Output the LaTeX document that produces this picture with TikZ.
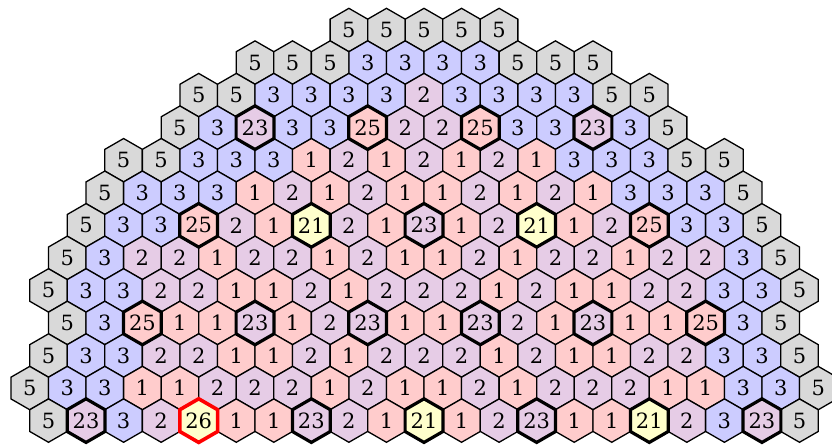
\documentclass[tikz,border=0pt]{standalone}
\usepackage{fontspec}
\setmainfont{DejaVu Serif}
\usetikzlibrary{shapes.geometric}
\definecolor{gray5}{HTML}{D9D9D9}
\definecolor{blue3}{HTML}{CCCCFF}
\definecolor{pink1}{HTML}{FFCCCC}
\definecolor{lav2}{HTML}{E6CCE6}
\definecolor{yel}{HTML}{FFFFCC}
\def\hexdata{%
0/-4/{5,5,5,5,5},
1/-9/{5,5,5,3,3,3,3,5,5,5},
2/-12/{5,5,3,3,3,3,2,3,3,3,3,5,5},
3/-13/{5,3,23,3,3,25,2,2,25,3,3,23,3,5},
4/-16/{5,5,3,3,3,1,2,1,2,1,2,1,3,3,3,5,5},
5/-17/{5,3,3,3,1,2,1,2,1,1,2,1,2,1,3,3,3,5},
6/-18/{5,3,3,25,2,1,21,2,1,23,1,2,21,1,2,25,3,3,5},
7/-19/{5,3,2,2,1,2,2,1,2,1,1,2,1,2,2,1,2,2,3,5},
8/-20/{5,3,3,2,2,1,1,2,1,2,2,2,1,2,1,1,2,2,3,3,5},
9/-19/{5,3,25,1,1,23,1,2,23,1,1,23,2,1,23,1,1,25,3,5},
10/-20/{5,3,3,2,2,1,1,2,1,2,2,2,1,2,1,1,2,2,3,3,5},
11/-21/{5,3,3,1,1,2,2,2,1,2,1,1,2,1,2,2,2,1,1,3,3,5},
12/-20/{5,23,3,2,26,1,1,23,2,1,21,1,2,23,1,1,21,2,3,23,5}}
\begin{document}
\begin{tikzpicture}[x=1pt,y=1pt,
  hexcell/.style={regular polygon, regular polygon sides=6, shape border rotate=30,
    minimum size=43.36pt, inner sep=0pt, outer sep=0pt, draw=black, line width=1.3pt,
    text=black, font=\fontsize{21}{24}\selectfont},
  c1/.style={fill=pink1}, c2/.style={fill=lav2}, c3/.style={fill=blue3},
  c5/.style={fill=gray5}, c21/.style={fill=yel}, c23/.style={fill=lav2},
  c25/.style={fill=pink1}, c26/.style={fill=yel},
  boldrim/.style={draw=black, line width=3.2pt, line join=miter},
  redrim/.style={draw=red, line width=3.6pt, line join=miter}]
\useasboundingbox (0,0) rectangle (832,-445);
\foreach \r/\cs/\vals in \hexdata {
  \foreach \v [count=\i from 0] in \vals {
    \pgfmathsetmacro\xx{424+18.775*(\cs+2*\i)}
    \pgfmathsetmacro\yy{-(30+32.55*\r)}
    \node[hexcell, c\v] (h-\r-\i) at (\xx,\yy) {\v};
  }
}
\foreach \r/\cs/\vals in \hexdata {
  \foreach \v [count=\i from 0] in \vals {
    \ifnum\v>20
      \ifnum\v=26
        \draw[redrim] (h-\r-\i.corner 1) -- (h-\r-\i.corner 2) -- (h-\r-\i.corner 3) -- (h-\r-\i.corner 4) -- (h-\r-\i.corner 5) -- (h-\r-\i.corner 6) -- cycle;
      \else
        \draw[boldrim] (h-\r-\i.corner 1) -- (h-\r-\i.corner 2) -- (h-\r-\i.corner 3) -- (h-\r-\i.corner 4) -- (h-\r-\i.corner 5) -- (h-\r-\i.corner 6) -- cycle;
      \fi
    \fi
  }
}
\end{tikzpicture}
\end{document}
